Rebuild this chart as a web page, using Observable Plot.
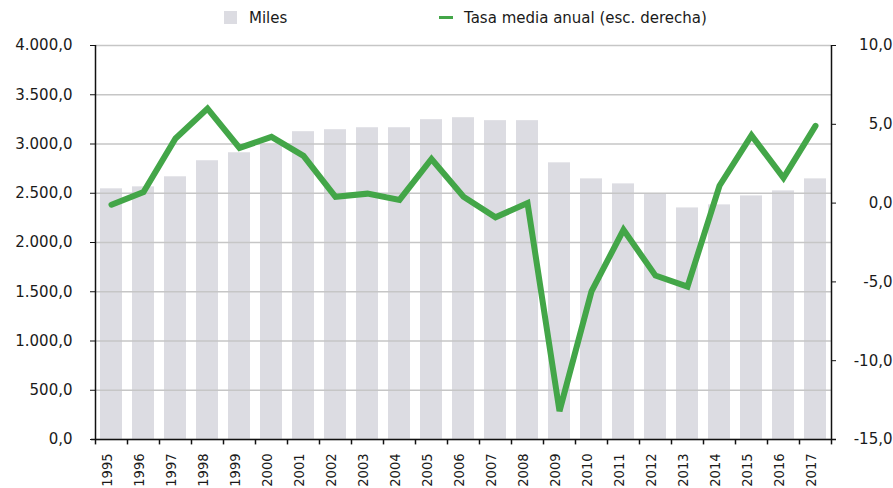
<!DOCTYPE html>
<html>
<head>
<meta charset="utf-8">
<script src="https://cdn.jsdelivr.net/npm/d3@7"></script>
<script src="https://cdn.jsdelivr.net/npm/@observablehq/plot@0.6"></script>
<style>
  html, body { margin: 0; padding: 0; background: #fff; }
  #wrap { position: relative; width: 893px; height: 488px; font-family: "DejaVu Sans", sans-serif; color: #1a1a1a; }
  .leg { position: absolute; font-size: 15px; line-height: 20px; top: 8px; }
  .sw { position: absolute; }
</style>
</head>
<body>
<div id="wrap">
  <div class="sw" style="left:224px; top:11px; width:13px; height:13px; background:#dcdce2;"></div>
  <div class="leg" style="left:249px;">Miles</div>
  <div class="sw" style="left:439px; top:16px; width:14px; height:3px; background:#43a648;"></div>
  <div class="leg" style="left:464px;">Tasa media anual (esc. derecha)</div>
</div>
<script>
const years = [1995, 1996, 1997, 1998, 1999, 2000, 2001, 2002, 2003, 2004, 2005, 2006, 2007, 2008, 2009, 2010, 2011, 2012, 2013, 2014, 2015, 2016, 2017];
const miles = [2545, 2565, 2667, 2830, 2911, 2990, 3125, 3145, 3165, 3165, 3247, 3267, 3237, 3237, 2809, 2646, 2595, 2497, 2351, 2382, 2473, 2524, 2646];
const tasa = [-0.1, 0.7, 4.1, 6.0, 3.5, 4.2, 3.0, 0.4, 0.6, 0.2, 2.8, 0.4, -0.9, 0.0, -13.2, -5.6, -1.7, -4.6, -5.3, 1.1, 4.3, 1.6, 4.9];
const leftTicks = [0, 500, 1000, 1500, 2000, 2500, 3000, 3500, 4000];
const rightTicks = [-15, -10, -5, 0, 5, 10];

const leftDomain = [0, 4000];
const rightDomain = [-15, 10];
const toLeft = v => leftDomain[0] + (v - rightDomain[0]) / (rightDomain[1] - rightDomain[0]) * (leftDomain[1] - leftDomain[0]);

const loc = d3.formatLocale({decimal: ",", thousands: ".", grouping: [3], currency: ["", "€"], minus: "-"});
const fmt = loc.format(",.1f");

const data = years.map((y, i) => ({year: String(y), miles: miles[i], tasa: tasa[i]}));
const yearStr = years.map(String);
const first = yearStr[0], last = yearStr[yearStr.length - 1];

const W = 893, H = 488, mL = 95, mR = 62, mT = 45, mB = 49;
const step = (W - mL - mR) / years.length;
const green = "#43a648";

const chart = Plot.plot({
  width: W,
  height: H,
  marginLeft: mL,
  marginRight: mR,
  marginTop: mT,
  marginBottom: mB,
  style: {fontFamily: "'DejaVu Sans', sans-serif", fontSize: "15px", color: "#1a1a1a", background: "transparent"},
  x: {type: "band", domain: yearStr, paddingInner: 0.3, paddingOuter: 0.15, axis: null},
  y: {domain: leftDomain, axis: null},
  marks: [
    Plot.barY(data, {x: "year", y: "miles", fill: "#dcdce2"}),
    Plot.gridY(leftTicks, {stroke: "#c6c6c6", strokeOpacity: 1, strokeWidth: 1.3}),
    Plot.line(data, {x: "year", y: d => toLeft(d.tasa), stroke: green, strokeWidth: 6, strokeLinejoin: "miter", strokeMiterlimit: 4}),
    // left axis
    Plot.axisY(leftTicks, {anchor: "left", tickSize: 5, tickPadding: 18, tickFormat: fmt, label: null, fontSize: 15, stroke: "#111"}),
    Plot.ruleX([first], {x: d => d, y1: leftDomain[0], y2: leftDomain[1], dx: -step / 2, stroke: "#111", strokeWidth: 1.5}),
    // right axis
    Plot.axisY(rightTicks.map(toLeft), {anchor: "right", tickSize: 4, tickFormat: () => "", label: null, stroke: "#111"}),
    Plot.ruleX([last], {x: d => d, y1: leftDomain[0], y2: leftDomain[1], dx: step / 2, stroke: "#111", strokeWidth: 1.5}),
    Plot.text(rightTicks, {y: d => toLeft(d), frameAnchor: "right", text: d => fmt(d), textAnchor: "end", dx: 61, fontSize: 15}),
    // bottom axis
    Plot.ruleY([0], {stroke: "#111", strokeWidth: 1.5, insetLeft: -4, insetRight: -5}),
    Plot.ruleX(yearStr, {x: d => d, y1: 0, y2: -55, dx: -step / 2, stroke: "#111", strokeWidth: 1.5}),
    Plot.ruleX([last], {x: d => d, y1: 0, y2: -55, dx: step / 2, stroke: "#111", strokeWidth: 1.5}),
    Plot.text(yearStr, {x: d => d, frameAnchor: "bottom", text: d => d, rotate: -90, textAnchor: "end", dy: 14, fontSize: 14.5, fontFamily: "'DejaVu Sans Condensed', 'DejaVu Sans', sans-serif"})
  ]
});
document.getElementById("wrap").appendChild(chart);
</script>
</body>
</html>
